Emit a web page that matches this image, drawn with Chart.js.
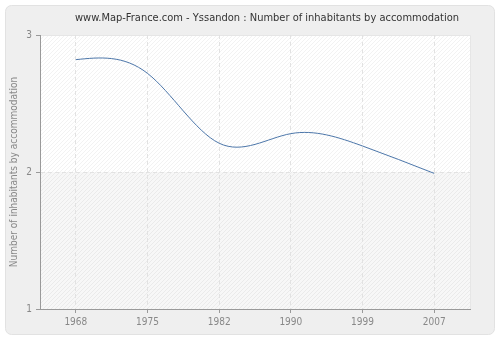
<!DOCTYPE html>
<html>
<head>
<meta charset="utf-8">
<script src="https://cdn.jsdelivr.net/npm/chart.js@4"></script>
<style>
  html, body { margin:0; padding:0; background:#fff; }
  #wrap { width:500px; height:340px; position:relative; }
</style>
</head>
<body>
<div id="wrap"><canvas id="popChart" width="500" height="340"></canvas></div>
<script>
// data
const years = ['1968', '1975', '1982', '1990', '1999', '2007'];
const inhabitants = [2.82, 2.72, 2.21, 2.28, 2.19, 1.99];
const yTicks = [1, 2, 3];

const chartTitle = 'www.Map-France.com - Yssandon : Number of inhabitants by accommodation';
const yTitle = 'Number of inhabitants by accommodation';
const FONT = '"DejaVu Sans Condensed", "Liberation Sans", sans-serif';

// hatch pattern for the plot area
function makeHatch(bg) {
    const c = document.createElement('canvas');
    c.width = 4; c.height = 4;
    const g = c.getContext('2d');
    g.fillStyle = bg;
    g.fillRect(0, 0, 4, 4);
    g.strokeStyle = 'rgba(0,0,0,0.05)';
    g.lineWidth = 1;
    g.beginPath();
    g.moveTo(0, 4); g.lineTo(4, 0);
    g.moveTo(-2, 2); g.lineTo(2, -2);
    g.moveTo(2, 6); g.lineTo(6, 2);
    g.stroke();
    return c;
}

// natural cubic spline through the points, set as bezier control points
const naturalSpline = {
    id: 'naturalSpline',
    afterDatasetsUpdate(chart) {
        const meta = chart.getDatasetMeta(0);
        const pts = meta.data;
        const n = pts.length - 1;
        if (n < 2) return;
        const h = pts[1].x - pts[0].x;
        const y = pts.map(p => p.y);
        // solve for second derivatives (M0 = Mn = 0)
        const M = new Array(n + 1).fill(0);
        const c = [], d = [];
        for (let i = 1; i < n; i++) {
            const rhs = 6 * (y[i + 1] - 2 * y[i] + y[i - 1]) / (h * h);
            const den = 4 - (i > 1 ? c[i - 1] : 0);
            c[i] = 1 / den;
            d[i] = (rhs - (i > 1 ? d[i - 1] : 0)) / den;
        }
        for (let i = n - 1; i >= 1; i--) {
            M[i] = d[i] - c[i] * (i < n - 1 ? M[i + 1] : 0);
        }
        const slope = i => i < n
            ? (y[i + 1] - y[i]) / h - h * (2 * M[i] + M[i + 1]) / 6
            : (y[n] - y[n - 1]) / h + h * (M[n - 1] + 2 * M[n]) / 6;
        pts.forEach((p, i) => {
            const m = slope(i);
            p.cp1x = p.x - h / 3; p.cp1y = p.y - m * h / 3;
            p.cp2x = p.x + h / 3; p.cp2y = p.y + m * h / 3;
        });
        meta.dataset._pointsUpdated = true;
    }
};

const backdrop = {
    id: 'backdrop',
    beforeDraw(chart) {
        const ctx = chart.ctx;
        const a = chart.chartArea;
        ctx.save();
        // outer panel
        ctx.fillStyle = '#fff';
        ctx.fillRect(0, 0, chart.width, chart.height);
        ctx.beginPath();
        ctx.roundRect(5.5, 5.5, 489, 329, 6);
        ctx.fillStyle = '#efefef';
        ctx.fill();
        ctx.strokeStyle = '#e2e2e2';
        ctx.lineWidth = 1;
        ctx.stroke();
        // plot area, upper and lower halves
        const mid = chart.scales.y.getPixelForValue(2);
        ctx.fillStyle = ctx.createPattern(makeHatch('#ffffff'), 'repeat');
        ctx.fillRect(a.left, a.top, a.right - a.left, mid - a.top);
        ctx.fillStyle = ctx.createPattern(makeHatch('#f7f7f7'), 'repeat');
        ctx.fillRect(a.left, mid, a.right - a.left, a.bottom - mid);
        ctx.strokeStyle = '#e6e6e6';
        ctx.beginPath();
        ctx.moveTo(a.left, a.top + 0.5); ctx.lineTo(a.right + 0.5, a.top + 0.5);
        ctx.lineTo(a.right + 0.5, a.bottom);
        ctx.stroke();
        // title
        ctx.fillStyle = '#333';
        ctx.font = '11px ' + FONT;
        ctx.textAlign = 'center';
        ctx.textBaseline = 'middle';
        ctx.fillText(chartTitle, 267, 18);
        ctx.restore();
    }
};

new Chart(document.getElementById('popChart'), {
    type: 'line',
    data: {
        labels: years,
        datasets: [{
            data: inhabitants,
            borderColor: '#4d77aa',
            borderWidth: 1,
            pointRadius: 0,
            tension: 0.4,
            fill: false
        }]
    },
    options: {
        responsive: false,
        animation: false,
        layout: { padding: { left: 0, right: 30, top: 35, bottom: 0 } },
        plugins: { legend: { display: false }, title: { display: false }, tooltip: { enabled: false } },
        scales: {
            x: {
                type: 'category',
                offset: true,
                grid: { offset: false, color: '#e2e2e2', tickColor: '#999', tickLength: 4 },
                border: { color: '#999', dash: [4, 3] },
                ticks: { color: '#888', font: { family: FONT, size: 10 }, padding: 3 },
                afterFit(s) { s.height = 31; }
            },
            y: {
                min: 1, max: 3,
                afterBuildTicks(s) { s.ticks = yTicks.map(v => ({ value: v })); },
                grid: { color: ctx => ctx.tick && ctx.tick.value === 2 ? '#e2e2e2' : 'rgba(0,0,0,0)', tickColor: '#999', tickLength: 4 },
                border: { color: '#999', dash: [4, 3] },
                ticks: { color: '#888', font: { family: FONT, size: 10 }, padding: 4 },
                title: { display: true, text: yTitle, color: '#888', font: { family: FONT, size: 10 }, padding: { top: 8, bottom: 2 } },
                afterFit(s) { s.width = 40; }
            }
        }
    },
    plugins: [naturalSpline, backdrop]
});
</script>
</body>
</html>
